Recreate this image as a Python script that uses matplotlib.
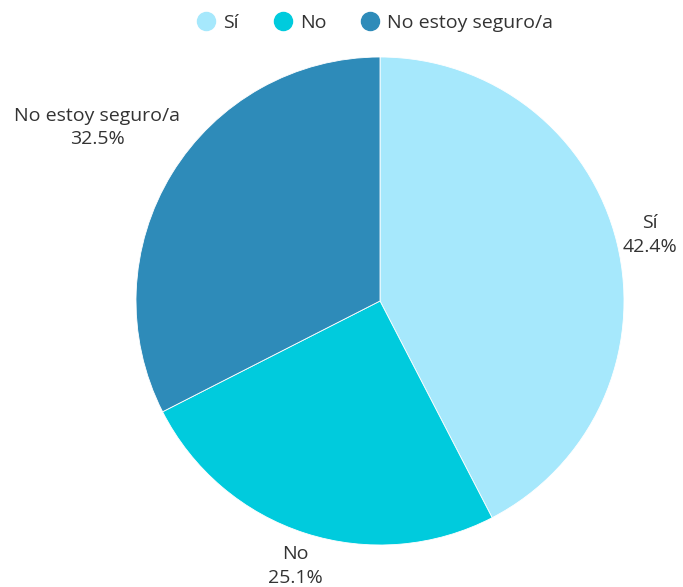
import numpy as np
import matplotlib.pyplot as plt
from matplotlib.lines import Line2D

plt.rcParams['font.family'] = ['Open Sans', 'DejaVu Sans']

categories = ['Sí', 'No', 'No estoy seguro/a']
shares = [42.4, 25.1, 32.5]
colors = ['#a6e8fc', '#00cbdd', '#2e8bb9']
label_dist = [1.14, 1.14, 1.36]

fig = plt.figure(figsize=(6.83, 5.87), dpi=100)
ax = fig.add_axes([0, 0, 1, 1])

wedges, _ = ax.pie(shares, colors=colors, startangle=90, counterclock=False,
                   radius=1, center=(0, 0),
                   wedgeprops=dict(edgecolor='white', linewidth=0.6))

# labels sit outside each slice, along its middle angle
for w, name, val, d in zip(wedges, categories, shares, label_dist):
    ang = np.deg2rad((w.theta1 + w.theta2) / 2)
    x, y = d * np.cos(ang), d * np.sin(ang)
    ax.text(x, y, f'{name}\n{val}%', ha='center', va='center',
            fontsize=14, color='#333333', linespacing=1.4)

ax.set_xlim(-380 / 244, 303 / 244)
ax.set_ylim(-286 / 244, 301 / 244)
ax.set_aspect('equal')
ax.axis('off')

handles = [Line2D([0], [0], marker='o', linestyle='none', markersize=13,
                  markerfacecolor=c, markeredgecolor=c) for c in colors]
fig.legend(handles, categories, loc='upper center', ncol=3, frameon=False,
           bbox_to_anchor=(0.549, 1.006), fontsize=14, handlelength=1.0,
           handletextpad=0.38, columnspacing=1.75, labelcolor='#333333')

fig.savefig('out.png', dpi=100)
